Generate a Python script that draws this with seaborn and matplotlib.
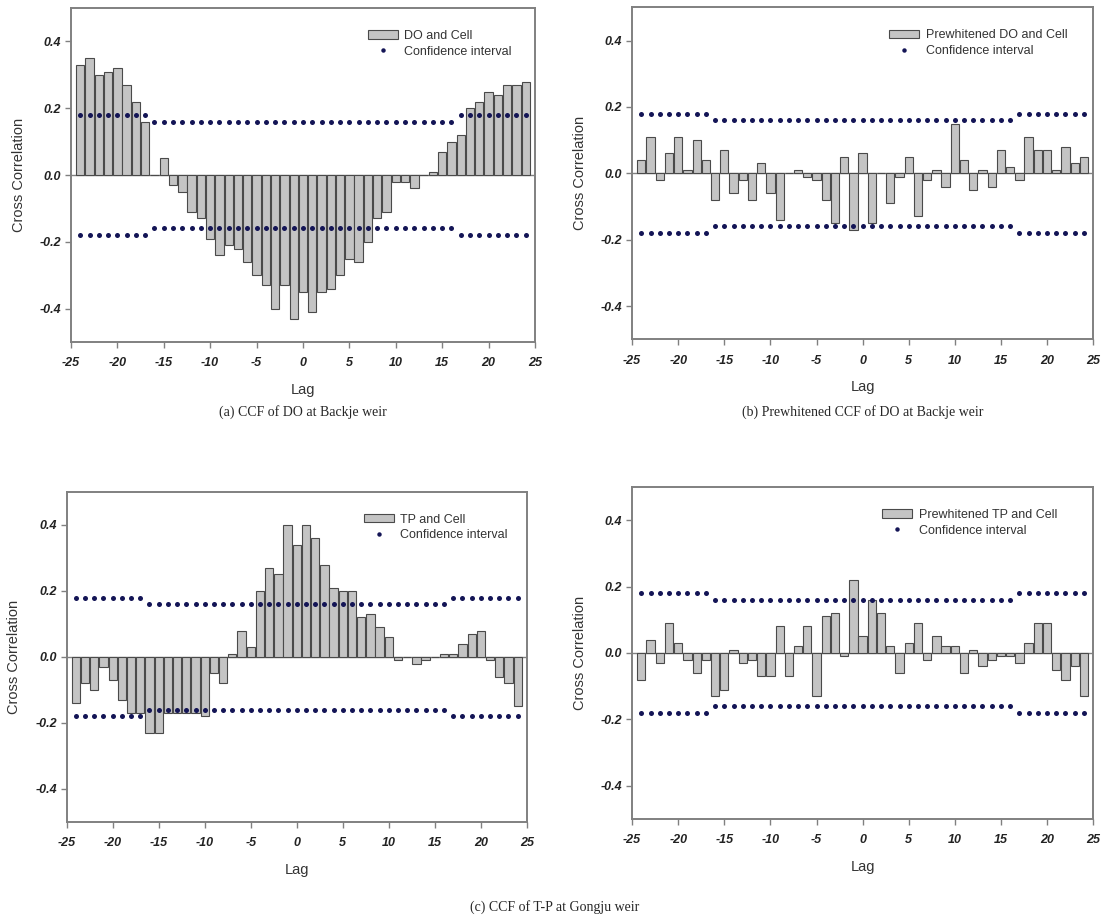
import pandas as pd
import seaborn as sns
import matplotlib.pyplot as plt
from matplotlib.patches import Patch
from matplotlib.lines import Line2D

# Lags shown on every panel
lags = list(range(-24, 25))

# Cross correlation values (lag -24 .. 24)
do_cell = [0.33, 0.35, 0.30, 0.31, 0.32, 0.27, 0.22, 0.16,
           0.00, 0.05, -0.03, -0.05, -0.11, -0.13, -0.19, -0.24,
           -0.21, -0.22, -0.26, -0.30, -0.33, -0.40, -0.33, -0.43,
           -0.35, -0.41, -0.35, -0.34, -0.30, -0.25, -0.26, -0.20,
           -0.13, -0.11, -0.02, -0.02, -0.04, 0.00, 0.01, 0.07,
           0.10, 0.12, 0.20, 0.22, 0.25, 0.24, 0.27, 0.27, 0.28]

pw_do_cell = [0.04, 0.11, -0.02, 0.06, 0.11, 0.01, 0.10, 0.04,
              -0.08, 0.07, -0.06, -0.02, -0.08, 0.03, -0.06, -0.14,
              0.00, 0.01, -0.01, -0.02, -0.08, -0.15, 0.05, -0.17,
              0.06, -0.15, 0.00, -0.09, -0.01, 0.05, -0.13, -0.02,
              0.01, -0.04, 0.15, 0.04, -0.05, 0.01, -0.04, 0.07,
              0.02, -0.02, 0.11, 0.07, 0.07, 0.01, 0.08, 0.03, 0.05]

tp_cell = [-0.14, -0.08, -0.10, -0.03, -0.07, -0.13, -0.17, -0.17,
           -0.23, -0.23, -0.17, -0.17, -0.17, -0.17, -0.18, -0.05,
           -0.08, 0.01, 0.08, 0.03, 0.20, 0.27, 0.25, 0.40,
           0.34, 0.40, 0.36, 0.28, 0.21, 0.20, 0.20, 0.12,
           0.13, 0.09, 0.06, -0.01, 0.00, -0.02, -0.01, 0.00,
           0.01, 0.01, 0.04, 0.07, 0.08, -0.01, -0.06, -0.08, -0.15]

pw_tp_cell = [-0.08, 0.04, -0.03, 0.09, 0.03, -0.02, -0.06, -0.02,
              -0.13, -0.11, 0.01, -0.03, -0.02, -0.07, -0.07, 0.08,
              -0.07, 0.02, 0.08, -0.13, 0.11, 0.12, -0.01, 0.22,
              0.05, 0.16, 0.12, 0.02, -0.06, 0.03, 0.09, -0.02,
              0.05, 0.02, 0.02, -0.06, 0.01, -0.04, -0.02, -0.01,
              -0.01, -0.03, 0.03, 0.09, 0.09, -0.05, -0.08, -0.04, -0.13]

# Confidence interval bounds (same for all panels)
ci_upper = [0.18] * 8 + [0.16] * 33 + [0.18] * 8
ci_lower = [-0.18] * 8 + [-0.16] * 33 + [-0.18] * 8

series_names = ["DO and Cell", "Prewhitened DO and Cell",
                "TP and Cell", "Prewhitened TP and Cell"]
series_values = [do_cell, pw_do_cell, tp_cell, pw_tp_cell]

xticks = [-25, -20, -15, -10, -5, 0, 5, 10, 15, 20, 25]
yticks = [-0.4, -0.2, 0.0, 0.2, 0.4]
ytick_labels = ["-0.4", "-0.2", "0.0", "0.2", "0.4"]

captions = ["(a) CCF of DO at Backje weir",
            "(b) Prewhitened CCF of DO at Backje weir",
            "(c) CCF of T-P at Gongju weir"]

sns.set_theme(style="white")
plt.rcParams["font.family"] = ["Liberation Sans", "DejaVu Sans"]

bar_color = "#c4c4c4"
edge_color = "#4a4a4a"
dot_color = "#141556"
frame_color = "#808080"
text_color = "#333333"

fig = plt.figure(figsize=(11.09, 9.17), dpi=100)

# axes boxes in figure fractions [left, bottom, width, height]
boxes = [[0.064, 0.627, 0.4184, 0.3642],
         [0.570, 0.630, 0.4157, 0.3620],
         [0.0601, 0.1036, 0.4150, 0.3600],
         [0.570, 0.1069, 0.4157, 0.3620]]
# legend anchor (axes fraction) per panel
legend_x = [0.974, 0.968, 0.982, 0.946]

for box, name, vals, lx in zip(boxes, series_names, series_values, legend_x):
    ax = fig.add_axes(box)
    df = pd.DataFrame({"lag": lags, "ccf": vals, "hi": ci_upper, "lo": ci_lower})

    ax.axhline(0, color=frame_color, lw=1.0, zorder=0.9)
    sns.barplot(data=df, x="lag", y="ccf", native_scale=True, width=0.9,
                color=bar_color, saturation=1, edgecolor=edge_color,
                linewidth=0.8, errorbar=None, ax=ax, zorder=2)
    sns.scatterplot(data=df, x="lag", y="hi", color=dot_color, s=13,
                    linewidth=0, ax=ax, zorder=3)
    sns.scatterplot(data=df, x="lag", y="lo", color=dot_color, s=13,
                    linewidth=0, ax=ax, zorder=3)

    ax.set_xlim(-25, 25)
    ax.set_ylim(-0.5, 0.5)
    ax.set_xticks(xticks)
    ax.set_xticklabels([str(t) for t in xticks])
    ax.set_yticks(yticks)
    ax.set_yticklabels(ytick_labels)
    for lab in ax.get_xticklabels() + ax.get_yticklabels():
        lab.set_fontweight("bold")
        lab.set_fontstyle("italic")
        lab.set_fontsize(9)
        lab.set_color("#222222")
    ax.tick_params(axis="x", bottom=True, length=4, width=1, color=frame_color, pad=7)
    ax.tick_params(axis="y", left=True, length=4, width=1, color=frame_color, pad=3)

    for sp in ax.spines.values():
        sp.set_color(frame_color)
        sp.set_linewidth(1.4)

    ax.set_xlabel("Lag", fontsize=10.5, color=text_color, labelpad=10)
    ax.set_ylabel("Cross Correlation", fontsize=10.5, color=text_color, labelpad=10)

    handles = [Patch(facecolor=bar_color, edgecolor=edge_color, linewidth=0.8),
               Line2D([], [], ls="none", marker="o", markersize=3.2,
                      markerfacecolor=dot_color, markeredgewidth=0)]
    ax.legend(handles, [name, "Confidence interval"], loc="upper right",
              bbox_to_anchor=(lx, 0.968), frameon=False, fontsize=9,
              labelcolor=text_color, handlelength=2.4, handleheight=0.65,
              handletextpad=0.5, labelspacing=0.3)

cap_font = ["Liberation Serif", "DejaVu Serif"]
fig.text(0.273, 0.5507, captions[0], ha="center", va="center",
         fontsize=10, family=cap_font)
fig.text(0.778, 0.5507, captions[1], ha="center", va="center",
         fontsize=10, family=cap_font)
fig.text(0.5, 0.011, captions[2], ha="center", va="center",
         fontsize=10, family=cap_font)

fig.savefig("out.png", dpi=100)
